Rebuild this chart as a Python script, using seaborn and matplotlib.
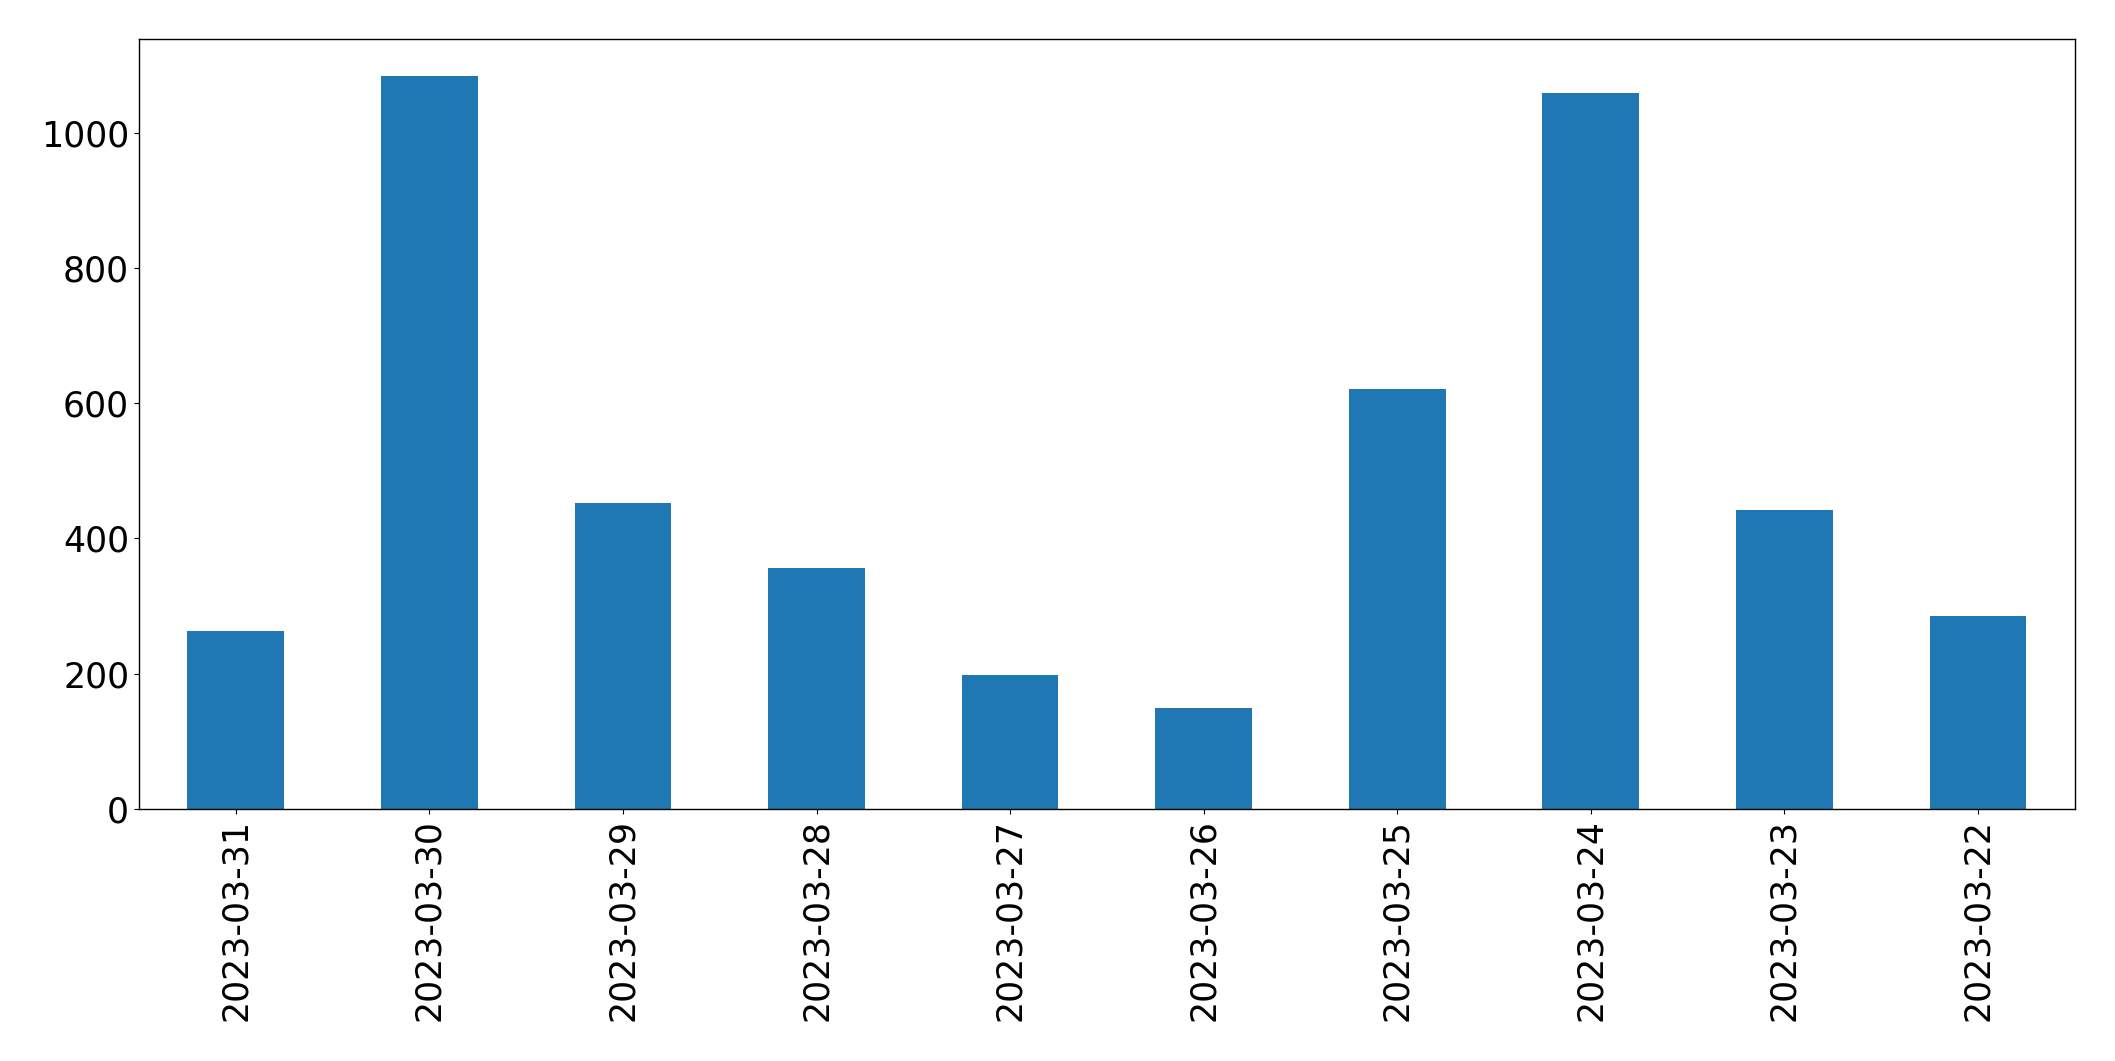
import matplotlib
matplotlib.use("Agg")
import matplotlib.pyplot as plt
import seaborn as sns
import pandas as pd

dates = ["2023-03-31", "2023-03-30", "2023-03-29", "2023-03-28", "2023-03-27",
         "2023-03-26", "2023-03-25", "2023-03-24", "2023-03-23", "2023-03-22"]
values = [263, 1084, 452, 357, 198, 149, 621, 1059, 442, 285]

df = pd.DataFrame({"date": dates, "value": values})

fig = plt.figure(figsize=(21.15, 10.61), dpi=100)
ax = fig.add_axes([0.0657, 0.2375, 0.9153, 0.7255])
sns.barplot(data=df, x="date", y="value", order=dates, color="#1f77b4",
            saturation=1, width=0.5, ax=ax, errorbar=None, linewidth=0)
ax.set_xlim(-0.5, len(dates) - 0.5)
ax.set_ylim(0, max(values) * 1.05)
ax.set_xlabel("")
ax.set_ylabel("")
ax.tick_params(axis="both", labelsize=25)
ax.tick_params(axis="x", labelrotation=90)
for s in ax.spines.values():
    s.set_visible(True)
    s.set_color("black")
    s.set_linewidth(1.0)
fig.savefig("out.png", dpi=100)
